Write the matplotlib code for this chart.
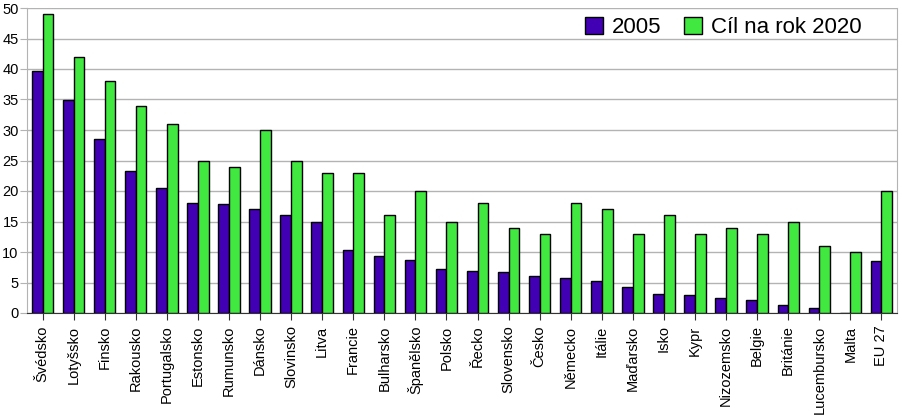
import numpy as np
import matplotlib.pyplot as plt

plt.rcParams['font.family'] = ['Liberation Sans', 'DejaVu Sans']

zeme = ["Švédsko", "Lotyšsko", "Finsko", "Rakousko", "Portugalsko", "Estonsko",
        "Rumunsko", "Dánsko", "Slovinsko", "Litva", "Francie", "Bulharsko",
        "Španělsko", "Polsko", "Řecko", "Slovensko", "Česko", "Německo",
        "Itálie", "Maďarsko", "Isko", "Kypr", "Nizozemsko", "Belgie",
        "Británie", "Lucembursko", "Malta", "EU 27"]
podil_2005 = [39.7, 34.9, 28.5, 23.3, 20.5, 18.0, 17.8, 17.0, 16.0, 15.0,
              10.3, 9.4, 8.7, 7.2, 6.9, 6.7, 6.1, 5.8, 5.2, 4.3, 3.1, 2.9,
              2.4, 2.2, 1.3, 0.9, 0.0, 8.5]
cil_2020 = [49, 42, 38, 34, 31, 25, 24, 30, 25, 23, 23, 16, 20, 15, 18, 14,
            13, 18, 17, 13, 16, 13, 14, 13, 15, 11, 10, 20]

fig = plt.figure(figsize=(9.02, 4.19), dpi=100)
ax = fig.add_axes([27/902, 1 - 313/419, 870/902, 305/419])

x = np.arange(len(zeme))
w = 0.345
ax.bar(x - w/2, podil_2005, w, color='#4200b4', edgecolor='black', linewidth=1, label='2005', zorder=3)
ax.bar(x + w/2, cil_2020, w, color='#40e840', edgecolor='black', linewidth=1, label='Cíl na rok 2020', zorder=3)

ax.set_xlim(-0.5, len(zeme) - 0.5)
ax.set_ylim(0, 50)
ax.set_yticks(range(0, 51, 5))
ax.set_xticks(x)
ax.set_xticklabels(zeme, rotation=90, fontsize=10.5)
ax.tick_params(axis='y', labelsize=10.5, length=5, color='#b3b3b3', pad=1)
ax.tick_params(axis='x', length=5, color='#333333', pad=4)
ax.yaxis.grid(True, color='#b3b3b3', linewidth=1, zorder=0)
ax.spines['top'].set_visible(False)
ax.spines['right'].set_color('#b3b3b3')
ax.spines['left'].set_color('#b3b3b3')
ax.spines['bottom'].set_color('#333333')

ax.legend(loc='upper right', bbox_to_anchor=(0.969, 1.0), ncol=2, frameon=False,
          fontsize=16, handlelength=0.8, handleheight=0.8, handletextpad=0.4,
          columnspacing=1.0, borderaxespad=0)

fig.savefig('out.png', dpi=100)
